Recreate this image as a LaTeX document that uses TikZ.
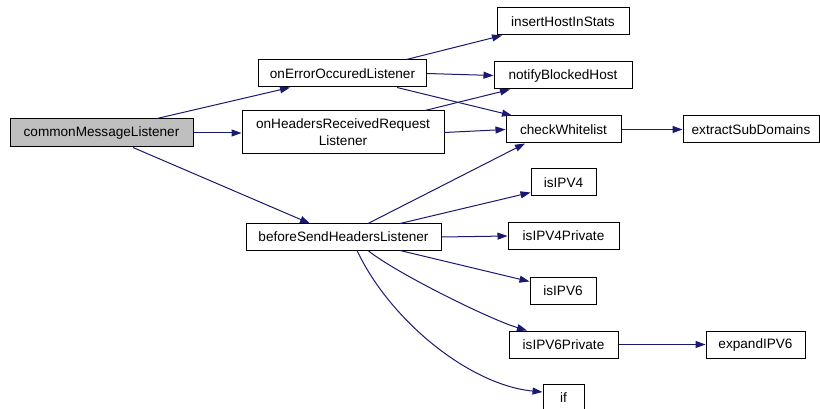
\documentclass[tikz,border=0pt]{standalone}
\usepackage{fontspec}
\setmainfont{Liberation Sans}
\usetikzlibrary{arrows.meta,calc}
\definecolor{edgeblue}{RGB}{25,25,112}
\definecolor{rootgray}{RGB}{191,191,191}
\tikzset{
  fnbox/.style={draw=black, line width=1pt, inner sep=0pt, minimum height=27pt,
    font=\fontsize{13.6}{17}\selectfont, align=center, fill=white},
  call/.style={draw=edgeblue, line width=1pt, -{Triangle[length=10pt,width=7pt]}},
}
\begin{document}
\begin{tikzpicture}[x=1pt,y=-1pt]
\useasboundingbox (0,0) rectangle (820,409);
\node[fnbox, fill=rootgray, minimum width=183pt, minimum height=28pt] (cml) at (101.5,133) {commonMessageListener};
\node[fnbox, minimum width=168pt] (oe) at (342.5,73.5) {onErrorOccuredListener};
\node[fnbox, minimum width=202pt, minimum height=43pt] (onh) at (343,132.5) {onHeadersReceivedRequest\\Listener};
\node[fnbox, minimum width=195pt, minimum height=26pt] (bsh) at (343.5,237) {beforeSendHeadersListener};
\node[fnbox, minimum width=132pt] (ihs) at (563,21.5) {insertHostInStats};
\node[fnbox, minimum width=138pt] (nbh) at (563,75.5) {notifyBlockedHost};
\node[fnbox, minimum width=115pt] (cw) at (563.5,129.5) {checkWhitelist};
\node[fnbox, minimum width=136pt] (esd) at (751,129.5) {extractSubDomains};
\node[fnbox, minimum width=65pt] (ip4) at (563.5,182.5) {isIPV4};
\node[fnbox, minimum width=111pt] (ip4p) at (563.5,236) {isIPV4Private};
\node[fnbox, minimum width=66pt] (ip6) at (563,290.5) {isIPV6};
\node[fnbox, minimum width=109pt] (ip6p) at (563.5,344.5) {isIPV6Private};
\node[fnbox, minimum width=99pt] (exp) at (755.5,344.5) {expandIPV6};
\node[fnbox, minimum width=41pt] (iff) at (563.5,397.5) {if};

\draw[call] ($(cml.north)+(55.5,0)$) -- ($(oe.south)+(-52.5,0)$);
\draw[call] (cml.east) -- (onh.west |- cml.east);
\draw[call] ($(cml.south)+(31.5,0)$) -- ($(bsh.north)+(-33.5,0)$);
\draw[call] ($(oe.north)+(64,0)$) -- ($(ihs.south)+(-61,0)$);
\draw[call] (oe.east) -- (nbh.west);
\draw[call] ($(oe.south)+(54.5,0)$) -- ($(cw.north)+(-51.5,0)$);
\draw[call] ($(onh.north)+(82,0)$) -- ($(nbh.south)+(-53,0)$);
\draw[call] (onh.east) -- (cw.west);
\draw[call] ($(bsh.north)+(24.5,0)$) -- ($(cw.south)+(-38.5,0)$);
\draw[call] ($(bsh.north)+(56.5,0)$) -- ($(ip4.south west)+(0,-4)$);
\draw[call] (bsh.east) -- (ip4p.west);
\draw[call] ($(bsh.south)+(56.5,0)$) -- ($(ip6.north west)+(0,5)$);
\draw[call] ($(bsh.south)+(24.5,0)$) .. controls +(27,22) and +(-37,-11) .. ($(ip6p.north)+(-36.5,0)$);
\draw[call] ($(bsh.south)+(13.5,0)$) .. controls +(33,70) and +(-73,-7) .. ($(iff.west)+(0,-5.5)$);
\draw[call] (cw.east) -- (esd.west);
\draw[call] (ip6p.east) -- (exp.west);
\end{tikzpicture}
\end{document}
